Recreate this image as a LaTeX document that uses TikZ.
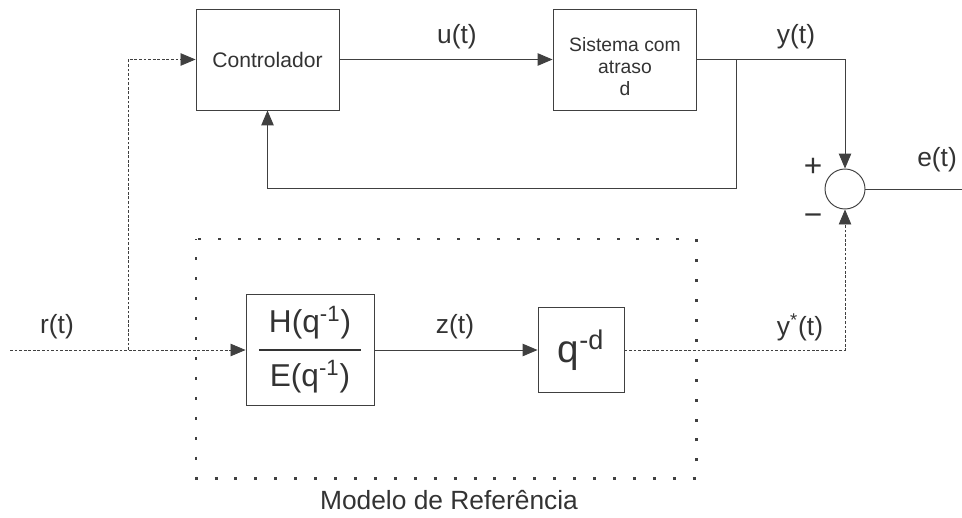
\documentclass[tikz,border=0pt]{standalone}
\usepackage{amsmath}
\usepackage{fontspec}
\setmainfont{Liberation Sans}
\usetikzlibrary{arrows.meta}

\definecolor{linegray}{HTML}{404040}
\definecolor{textgray}{HTML}{333333}

\begin{document}
\begin{tikzpicture}
        [x = 0.02cm, y = -0.02cm,
            > = {Triangle[length=0.3cm, width=0.25cm]},
            line width = 0.55pt,
            block/.style = {rectangle, draw=linegray, line width=0.55pt, text=textgray, inner sep=0pt},
            label text/.style = {text=textgray, font=\fontsize{15}{18}\selectfont},
            sign/.style = {text=textgray, font=\fontsize{18}{20}\selectfont},
            signal/.style = {draw=linegray, ->},
            ref signal/.style = {signal, dash pattern=on 1.6pt off 1pt, line width=0.45pt},
            model frame/.style = {draw=linegray, line width=1.7pt, dash pattern=on 1.7pt off 9.64pt, dash phase=0.85pt}]

        \useasboundingbox (0,0) rectangle (962,517);

        % blocks
        \node[block, minimum width=2.86cm, minimum height=2.02cm, font=\fontsize{12}{14}\selectfont] (ctrl) at (267.5,59.5) {Controlador};
        \node[block, minimum width=2.86cm, minimum height=2.02cm] (plant) at (624.5,59.5) {};
        \node[text=textgray, font=\fontsize{11}{12.5}\selectfont, align=center] (plant text) at (625,67) {Sistema com\\atraso\\d};
        \node[block, minimum width=2.56cm, minimum height=2.22cm, font=\fontsize{18}{21}\selectfont] (filter) at (310,350)
            {$\genfrac{}{}{1.7pt}{0}{\text{\hspace{0.2cm}H(q\textsuperscript{-1})\hspace{0.2cm}}}{\text{E(q\textsuperscript{-1})}}$};
        \node[block, minimum width=1.72cm, minimum height=1.70cm, font=\fontsize{22}{26}\selectfont] (delay) at (581,350) {q\textsuperscript{-d}};
        \node[circle, draw=linegray, minimum size=0.8cm, inner sep=0pt] (sum) at (845,189) {};

        \coordinate (rin) at (10,350);
        \coordinate (rsplit) at (128,350);
        \coordinate (ysplit) at (736,60);
        \coordinate (fb) at (736,188);
        \coordinate (eout) at (962,189);

        % model of reference
        \draw[model frame] (196,239) rectangle (696,478);

        % connectors
        \draw[ref signal] (rin) -- (filter.west);
        \draw[ref signal] (rsplit) |- (ctrl.west);
        \draw[signal] (ctrl) -- (plant);
        \draw[signal] (plant.east) -| (sum.north);
        \draw[signal] (ysplit) -- (fb) -| (ctrl.south);
        \draw[signal] (filter) -- (delay);
        \draw[ref signal] (delay.east) -| (sum.south);
        \draw[draw=linegray] (sum.east) -- (eout);

        % labels
        \node[label text] (u label) at (457,37) {u(t)};
        \node[label text] (y label) at (796,37) {y(t)};
        \node[label text] (e label) at (937,160) {e(t)};
        \node[label text] (r label) at (57,327) {r(t)};
        \node[label text] (z label) at (455,327) {z(t)};
        \node[label text] (ystar label) at (800,327) {y\textsuperscript{*}(t)};
        \node[label text] (model label) at (449,500) {Modelo de Referência};
        \node[sign] (plus) at (813,167) {+};
        \node[sign] (minus) at (813,220) {−};
    \end{tikzpicture}
\end{document}
